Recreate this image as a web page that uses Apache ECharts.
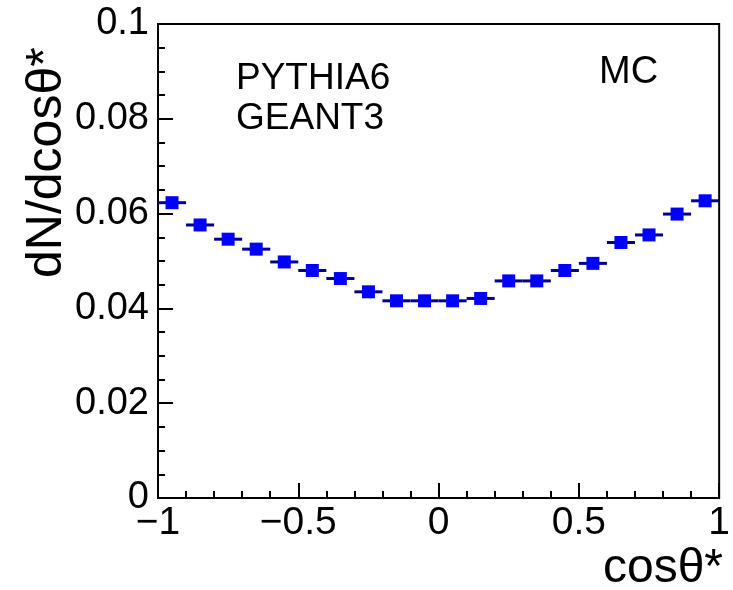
<!DOCTYPE html>
<html>
<head>
<meta charset="utf-8">
<script src="https://cdn.jsdelivr.net/npm/echarts@6/dist/echarts.min.js"></script>
<style>
  html, body { margin: 0; padding: 0; background: #fff; }
  #chart { width: 733px; height: 590px; }
</style>
</head>
<body>
<div id="chart"></div>
<script>
// Bin centres of the cos(theta*) histogram (bin width 0.1)
const binCenters = [-0.95, -0.85, -0.75, -0.65, -0.55, -0.45, -0.35, -0.25, -0.15, -0.05,
                     0.05,  0.15,  0.25,  0.35,  0.45,  0.55,  0.65,  0.75,  0.85,  0.95];
const binHalfWidth = 0.05;
// Normalised counts dN/dcos(theta*)
const counts = [0.0623, 0.0576, 0.0546, 0.0525, 0.0498, 0.0480, 0.0463, 0.0435, 0.0416, 0.0416,
                0.0416, 0.0421, 0.0458, 0.0458, 0.0480, 0.0495, 0.0539, 0.0555, 0.0599, 0.0627];
const xTicks = [-1, -0.5, 0, 0.5, 1];
const yTicks = [0, 0.02, 0.04, 0.06, 0.08, 0.1];

const FONT = '"Liberation Sans", Arial, sans-serif';
const points = binCenters.map((x, i) => [x, counts[i]]);

const chart = echarts.init(document.getElementById('chart'), null, { renderer: 'canvas' });

chart.setOption({
  animation: false,
  backgroundColor: '#fff',
  grid: {
    left: 158, right: 7, top: 24, bottom: 92,
    show: true, borderColor: '#000', borderWidth: 2, backgroundColor: 'transparent'
  },
  xAxis: {
    type: 'value', min: xTicks[0], max: xTicks[xTicks.length - 1], interval: 0.5,
    axisLine: { onZero: false, lineStyle: { color: '#000', width: 2 } },
    axisTick: { inside: true, length: 15, lineStyle: { color: '#000', width: 2 } },
    minorTick: { show: true, splitNumber: 5, length: 7, lineStyle: { color: '#000', width: 2 } },
    splitLine: { show: false },
    axisLabel: {
      color: '#000', fontFamily: FONT, fontSize: 39, margin: 6,
      formatter: v => String(+v.toFixed(2)).replace('-', '\u2212')
    }
  },
  yAxis: {
    type: 'value', min: yTicks[0], max: yTicks[yTicks.length - 1], interval: 0.02,
    axisLine: { onZero: false, lineStyle: { color: '#000', width: 2 } },
    axisTick: { inside: true, length: 15, lineStyle: { color: '#000', width: 2 } },
    minorTick: { show: true, splitNumber: 4, length: 7, lineStyle: { color: '#000', width: 2 } },
    splitLine: { show: false },
    axisLabel: {
      color: '#000', fontFamily: FONT, fontSize: 38, margin: 9,
      formatter: v => String(+v.toFixed(3))
    }
  },
  graphic: [
    { type: 'text', left: 236, top: 60,
      style: { text: 'PYTHIA6', fill: '#000', font: '37px ' + FONT } },
    { type: 'text', left: 236, top: 100,
      style: { text: 'GEANT3', fill: '#000', font: '37px ' + FONT } },
    { type: 'text', left: 599, top: 54,
      style: { text: 'MC', fill: '#000', font: '38px ' + FONT } },
    { type: 'text', right: 10, top: 545,
      style: { text: 'cos\u03b8*', fill: '#000', font: '48px ' + FONT } },
    { type: 'text', x: 22, y: 278, rotation: Math.PI / 2,
      style: { text: 'dN/dcos\u03b8*', fill: '#000', font: '50px ' + FONT } }
  ],
  series: [
    {
      // horizontal bars spanning each bin
      type: 'custom',
      data: points,
      renderItem: (params, api) => {
        const x = api.value(0), y = api.value(1);
        const a = api.coord([x - binHalfWidth, y]);
        const b = api.coord([x + binHalfWidth, y]);
        return {
          type: 'line',
          shape: { x1: a[0], y1: a[1], x2: b[0], y2: b[1] },
          style: { stroke: '#00008c', lineWidth: 3 }
        };
      },
      z: 2
    },
    {
      type: 'scatter',
      data: points,
      symbol: 'rect',
      symbolSize: 13,
      itemStyle: { color: '#0000ff', opacity: 1 },
      z: 3
    }
  ]
});
</script>
</body>
</html>
